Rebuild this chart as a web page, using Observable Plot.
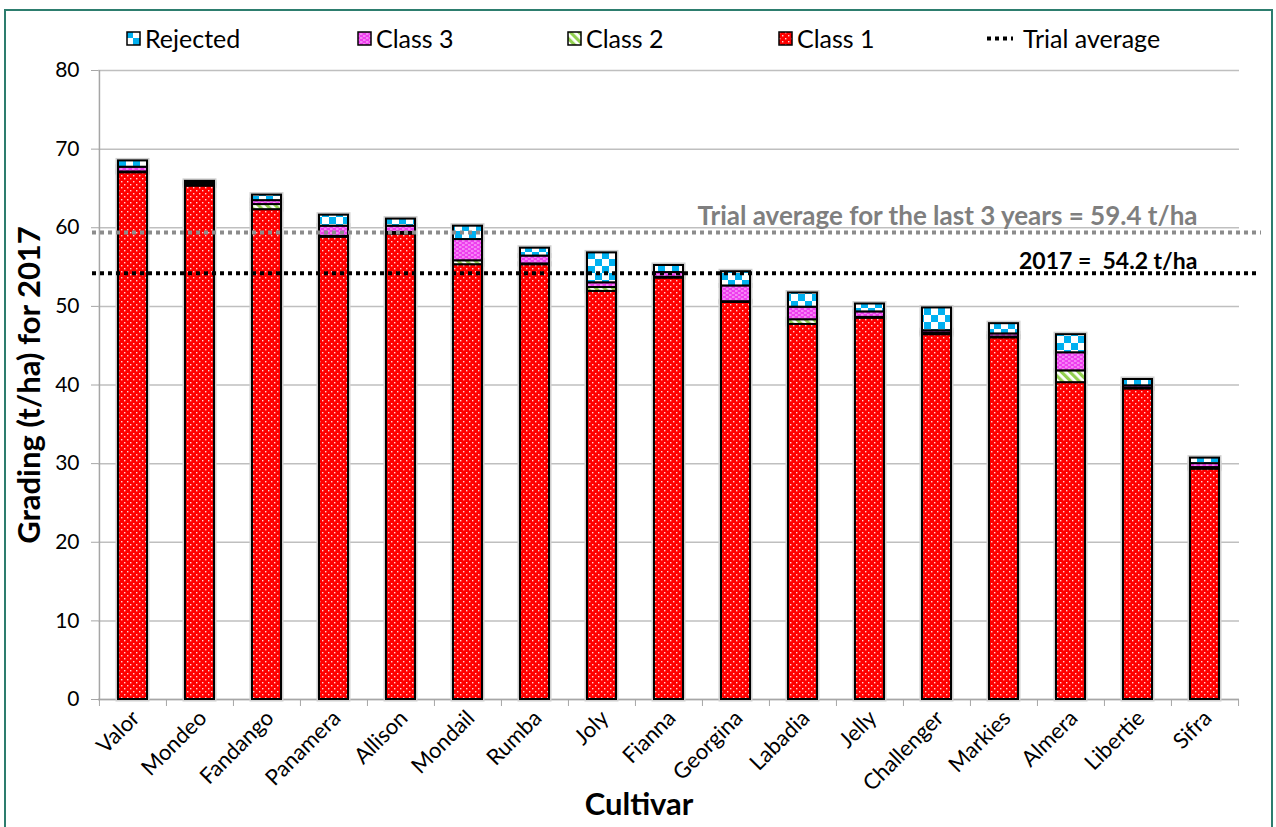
<!DOCTYPE html>
<html><head><meta charset="utf-8">
<script src="https://cdn.jsdelivr.net/npm/d3@7"></script>
<script src="https://cdn.jsdelivr.net/npm/@observablehq/plot@0.6"></script>
<style>
html,body{margin:0;padding:0;background:#fff;}
#wrap{position:relative;width:1276px;height:827px;overflow:hidden;font-family:Lato,"Open Sans",sans-serif;}
#frame{position:absolute;left:4px;top:9px;width:1269px;height:900px;border:2px solid #2d7d6e;box-sizing:border-box;}
#chart{position:absolute;left:0;top:0;}
.item{position:absolute;top:24px;height:28px;display:flex;align-items:center;font-size:25px;color:#000;white-space:nowrap;}
.item svg{margin-right:4px;}
</style></head>
<body>
<svg width="0" height="0" style="position:absolute">
<defs>
<pattern id="p-c1" width="6" height="6" patternUnits="userSpaceOnUse">
 <rect width="6" height="6" fill="#ff0000"/>
 <rect x="1" y="1" width="1.4" height="1.4" fill="#ffd6d6"/>
 <rect x="4" y="4" width="1.4" height="1.4" fill="#ffd6d6"/>
</pattern>
<pattern id="p-c2" width="6" height="6" patternUnits="userSpaceOnUse" patternTransform="rotate(-45)">
 <rect width="6" height="6" fill="#ffffff"/>
 <rect width="3.2" height="6" fill="#92d050"/>
</pattern>
<pattern id="p-c3" width="6" height="4" patternUnits="userSpaceOnUse">
 <rect width="6" height="4" fill="#ee3fee"/>
 <rect x="0" y="0.5" width="2.5" height="1" fill="#ffc8ff"/>
 <rect x="3" y="2.5" width="2.5" height="1" fill="#ffc8ff"/>
</pattern>
<pattern id="p-rej" width="14" height="14" patternUnits="userSpaceOnUse">
 <rect width="14" height="14" fill="#ffffff"/>
 <rect width="7" height="7" fill="#00b0f0"/>
 <rect x="7" y="7" width="7" height="7" fill="#00b0f0"/>
</pattern>
</defs>
</svg>
<div id="wrap">
  <div id="frame"></div>
  <div id="chart"></div>
  <div id="legend"></div>
</div>
<script>
// ---- data ----
const cultivars = ["Valor","Mondeo","Fandango","Panamera","Allison","Mondail","Rumba","Joly","Fianna","Georgina","Labadia","Jelly","Challenger","Markies","Almera","Libertie","Sifra"];
const class1   = [67.0, 65.3, 62.3, 58.8, 59.2, 55.3, 55.3, 51.9, 53.6, 50.5, 47.7, 48.5, 46.4, 46.0, 40.3, 39.5, 29.3];
const class2   = [0.1, 0.2, 0.65, 0.1, 0.2, 0.5, 0.1, 0.5, 0.1, 0.1, 0.6, 0.1, 0.2, 0.1, 1.5, 0.1, 0.2];
const class3   = [0.6, 0.2, 0.5, 1.3, 0.8, 2.7, 1.0, 0.6, 0.6, 2.0, 1.6, 0.7, 0.3, 0.4, 2.3, 0.3, 0.5];
const rejected = [0.8, 0.2, 0.7, 1.4, 0.9, 1.7, 1.0, 3.8, 0.9, 1.8, 1.8, 1.0, 2.9, 1.3, 2.3, 0.8, 0.7];
const seriesNames = ["Class 1","Class 2","Class 3","Rejected"];
const avg3years = 59.4;
const avg2017 = 54.2;
const yTicks = [0,10,20,30,40,50,60,70,80];
const yTitle = "Grading (t/ha) for 2017";
const xTitle = "Cultivar";
const legendLabels = ["Rejected","Class 3","Class 2","Class 1","Trial average"];

// ---- build ----
const seriesValues = [class1, class2, class3, rejected];
const patterns = ["url(#p-c1)","url(#p-c2)","url(#p-c3)","url(#p-rej)"];
const rows = cultivars.flatMap((c,i) => seriesNames.map((s,k) => ({cultivar:c, series:s, value:seriesValues[k][i]})));

const W = 1276, H = 827, mL = 98, mR = 37, mT = 70, mB = 128;
const step = (W - mL - mR) / cultivars.length;
const grey = "#a6a6a6";

const chart = Plot.plot({
  width: W, height: H,
  marginLeft: mL, marginRight: mR, marginTop: mT, marginBottom: mB,
  style: {fontFamily: "Lato, 'Open Sans', sans-serif", fontSize: "21px", color: "#000", background: "transparent", overflow: "visible"},
  x: {domain: cultivars, paddingInner: 0.57, paddingOuter: 0.285, axis: null},
  y: {domain: [0, 80], axis: null},
  color: {domain: seriesNames, range: patterns},
  marks: [
    Plot.gridY(yTicks, {stroke: "#bfbfbf", strokeOpacity: 1, strokeWidth: 1.5}),
    Plot.axisY(yTicks, {anchor: "left", tickSize: 7, tickPadding: 12, stroke: grey, fontSize: 21, label: null}),
    // y axis line
    Plot.ruleX([cultivars[0]], {x: d => d, dx: -step/2, y1: d3.min(yTicks), y2: d3.max(yTicks), stroke: grey, strokeWidth: 1.5}),
    // x axis line
    Plot.ruleY([0], {stroke: grey, strokeWidth: 1.5}),
    // boundary ticks between categories
    Plot.axisX(cultivars, {anchor: "bottom", dx: -step/2, tickSize: 7, stroke: grey, fill: "none", label: null}),
    Plot.axisX([cultivars[cultivars.length-1]], {anchor: "bottom", dx: step/2, tickSize: 7, stroke: grey, fill: "none", label: null}),
    // category labels
    Plot.axisX(cultivars, {anchor: "bottom", tickSize: 0, tickPadding: 0, tickRotate: -45, dx: 3, dy: 15, fontSize: 22, label: null}),
    // soft shadow behind bars
    Plot.barY(rows, Plot.stackY({x: "cultivar", y: "value", fill: "none", stroke: "#cfcfcf", strokeWidth: 5})),
    Plot.barY(rows, Plot.stackY({x: "cultivar", y: "value", fill: "series", stroke: "black", strokeWidth: 2})),
    Plot.ruleY([avg3years], {stroke: "#8c8c8c", strokeWidth: 4, strokeDasharray: "4,4", insetLeft: -6, insetRight: -22}),
    Plot.ruleY([avg2017], {stroke: "#000", strokeWidth: 4, strokeDasharray: "4,4", insetLeft: -6, insetRight: -18}),
    Plot.text([`Trial average for the last 3 years = ${avg3years} t/ha`], {frameAnchor: "right", y: avg3years, dx: -42, dy: -16, textAnchor: "end", fill: "#7f7f7f", fontWeight: "bold", fontSize: 26}),
    Plot.text([`2017 =  ${avg2017} t/ha`], {frameAnchor: "right", y: avg2017, dx: -42, dy: -12, textAnchor: "end", fill: "#000", fontWeight: "bold", fontSize: 23}),
    Plot.text([yTitle], {frameAnchor: "left", rotate: -90, textAnchor: "middle", dx: -68, fontWeight: "bold", fontSize: 31}),
    Plot.text([xTitle], {frameAnchor: "bottom", textAnchor: "middle", dx: -30, dy: 115, fontWeight: "bold", fontSize: 31})
  ]
});
document.getElementById("chart").appendChild(chart);

// ---- legend ----
const legend = document.getElementById("legend");
const legendX = [126, 357, 567, 778, 985];
const legendPat = ["p-rej","p-c3","p-c2","p-c1"];
legendLabels.forEach((lab, i) => {
  const div = document.createElement("div");
  div.className = "item";
  div.style.left = legendX[i] + "px";
  let sw;
  if (i < 4) {
    sw = `<svg width="15" height="15"><rect x="1" y="1" width="13" height="13" fill="url(#${legendPat[i]})" stroke="#000" stroke-width="1.5"/></svg>`;
  } else {
    sw = `<svg width="30" height="15" style="margin-right:8px"><line x1="2" x2="28" y1="7.5" y2="7.5" stroke="#000" stroke-width="4" stroke-dasharray="4,4"/></svg>`;
  }
  div.innerHTML = sw + `<span>${lab}</span>`;
  legend.appendChild(div);
});
</script>
</body></html>
